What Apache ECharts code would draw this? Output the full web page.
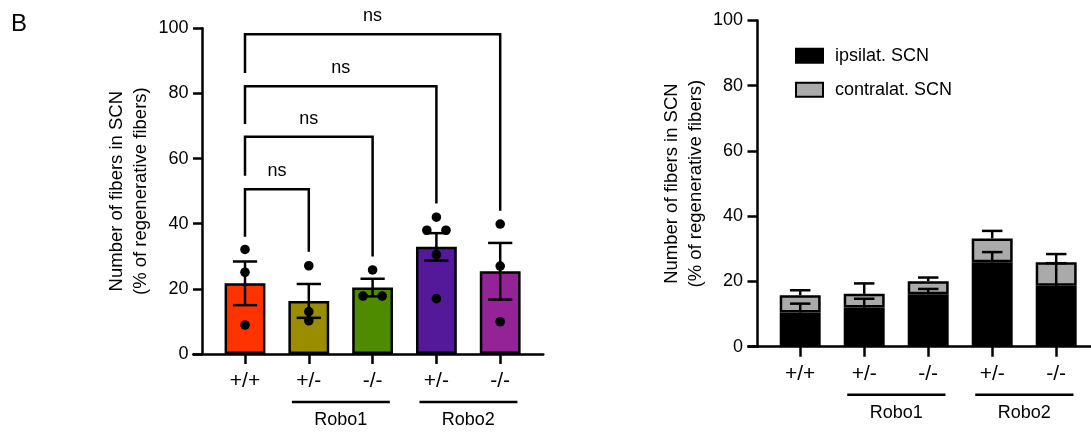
<!DOCTYPE html>
<html>
<head>
<meta charset="utf-8">
<script src="https://cdn.jsdelivr.net/npm/echarts@6/dist/echarts.min.js"></script>
<style>
  html, body { margin: 0; padding: 0; background: #fff; }
  #chart { width: 1091px; height: 432px; }
</style>
</head>
<body>
<div id="chart"></div>
<script>
// genotypes on both panels
const categories = ['+/+', '+/-', '-/-', '+/-', '-/-']
const yTicks = [0, 20, 40, 60, 80, 100]

// panel 1: means, SEM and single animals
const meanFibers = [21.7, 16.3, 20.4, 32.9, 25.4]
const semFibers = [6.7, 5.2, 2.7, 4.2, 8.7]
const ptsWT = [32.1, 25.1, 8.9]
const ptsRobo1Het = [27.1, 13.0, 10.2]
const ptsRobo1Ko = [25.8, 17.8, 17.8]
const ptsRobo2Het = [42.0, 38.0, 38.0, 30.5, 17.0]
const ptsRobo2Ko = [39.9, 27.0, 9.9]

// comparison brackets (all vs +/+)
const bracketFrom = [0, 0, 0, 0]
const bracketTo = [1, 2, 3, 4]
const bracketTop = [50.6, 66.7, 82.2, 98.2]
const bracketLeftEnd = [36.0, 54.7, 70.6, 86.3]
const bracketRightEnd = [31.4, 29.9, 46.2, 44.0]
const bracketLabels = ['ns', 'ns', 'ns', 'ns']

// gene groups under the axis
const groupNames = ['Robo1', 'Robo2']
const groupStart = [1, 3]
const groupEnd = [2, 4]

// panel 2: stacked ipsi / contra
const ipsiVals = [10.5, 12.0, 16.1, 25.9, 18.7]
const contraVals = [5.3, 4.2, 4.0, 7.3, 7.2]
const ipsiSem = [2.7, 2.7, 1.6, 3.1, 6.9]
const contraSem = [1.5, 3.2, 1.1, 2.3, 2.5]

const barColors = ['#ff3300', '#9a8e00', '#4e8b00', '#53199a', '#932397']
const FONT = '"Liberation Sans", Arial, Helvetica, sans-serif'
const LW = 2.5

const chart = echarts.init(document.getElementById('chart'))

// spread points with (almost) equal values side by side, like a dot plot
const jitter = (vals) => {
  const idx = vals.map((v, i) => i).sort((a, b) => vals[b] - vals[a])
  const out = new Array(vals.length).fill(0)
  let k = 0
  while (k < idx.length) {
    let j = k
    while (j + 1 < idx.length && Math.abs(vals[idx[j + 1]] - vals[idx[k]]) < 1.5) j++
    const n = j - k + 1
    for (let m = 0; m < n; m++) out[idx[k + m]] = (m - (n - 1) / 2) * 0.3
    k = j + 1
  }
  return out
}

const dotData = []
;[ptsWT, ptsRobo1Het, ptsRobo1Ko, ptsRobo2Het, ptsRobo2Ko].forEach((pts, i) => {
  const off = jitter(pts)
  pts.forEach((v, j) => dotData.push([i, v, off[j]]))
})

const lineStyle = { stroke: '#000', lineWidth: LW }

const groupSeries = (xi, yi) => ({
  type: 'custom',
  xAxisIndex: xi,
  yAxisIndex: yi,
  clip: false,
  silent: true,
  z: 10,
  data: groupNames.map((n, i) => [groupStart[i], groupEnd[i]]),
  renderItem: (params, api) => {
    const a = api.coord([api.value(0), 0])
    const b = api.coord([api.value(1), 0])
    const band = api.size([1, 0])[0]
    return {
      type: 'group',
      children: [
        { type: 'line', shape: { x1: a[0] - 0.265 * band, y1: a[1] + 48, x2: b[0] + 0.27 * band, y2: a[1] + 48 }, style: lineStyle },
        { type: 'text', style: { text: groupNames[params.dataIndex], x: (a[0] + b[0]) / 2, y: a[1] + 66, align: 'center', verticalAlign: 'middle', fontSize: 18, fontFamily: FONT, fill: '#000' } }
      ]
    }
  }
})

const baseAxis = (grid) => ({
  gridIndex: grid,
  type: 'value',
  min: 0,
  max: 1,
  axisLine: { show: true, lineStyle: { color: '#000', width: LW } },
  axisTick: { show: false },
  axisLabel: { show: false },
  splitLine: { show: false }
})

const catAxis = (grid) => ({
  gridIndex: grid,
  type: 'category',
  data: categories,
  axisLine: { show: false },
  axisTick: { show: true, alignWithLabel: true, length: 10, lineStyle: { color: '#000', width: LW } },
  axisLabel: { color: '#000', fontSize: 21, fontFamily: FONT, margin: 17, interval: 0 }
})

const valAxis = (grid, offset) => ({
  gridIndex: grid,
  type: 'value',
  min: yTicks[0],
  max: yTicks[yTicks.length - 1],
  interval: yTicks[1] - yTicks[0],
  offset: offset,
  axisLine: { show: true, lineStyle: { color: '#000', width: LW } },
  axisTick: { show: true, length: 9.5, lineStyle: { color: '#000', width: LW } },
  axisLabel: { color: '#000', fontSize: 18, fontFamily: FONT, margin: 14 },
  splitLine: { show: false },
  name: 'Number of fibers in SCN\n(% of regenerative fibers)',
  nameLocation: 'middle',
  nameGap: 49.5,
  nameTextStyle: { color: '#000', fontSize: 18.5, fontFamily: FONT, lineHeight: 24 }
})

const option = {
  animation: false,
  backgroundColor: '#fff',
  textStyle: { fontFamily: FONT },
  title: { text: 'B', left: 11, top: 12, padding: 0, textStyle: { fontSize: 24, fontWeight: 'normal', color: '#000', fontFamily: FONT } },
  legend: {
    orient: 'vertical',
    left: 795,
    top: 46.7,
    padding: 0,
    itemWidth: 27,
    itemHeight: 14,
    itemGap: 16,
    icon: 'rect',
    data: ['ipsilat. SCN', 'contralat. SCN'],
    textStyle: { color: '#000', fontSize: 18, fontFamily: FONT, padding: [0, 0, 0, 7] }
  },
  grid: [
    { left: 213.1, top: 28.3, width: 319, height: 325.7 },
    { left: 768.2, top: 20.5, width: 320, height: 326.2 },
    { left: 193.3, top: 353, width: 350, height: 1 },
    { left: 748.4, top: 345.7, width: 342.6, height: 1 }
  ],
  xAxis: [catAxis(0), catAxis(1), baseAxis(2), baseAxis(3)],
  yAxis: [
    valAxis(0, 10.6),
    valAxis(1, 11.2),
    { gridIndex: 2, type: 'value', show: false },
    { gridIndex: 3, type: 'value', show: false }
  ],
  series: [
    {
      type: 'bar',
      xAxisIndex: 0,
      yAxisIndex: 0,
      barWidth: '64%',
      z: 2,
      data: meanFibers.map((v, i) => ({ value: v, itemStyle: { color: barColors[i] } })),
      itemStyle: { borderColor: '#000', borderWidth: LW }
    },
    {
      type: 'custom',
      xAxisIndex: 0,
      yAxisIndex: 0,
      z: 10,
      data: dotData,
      renderItem: (params, api) => {
        const p = api.coord([api.value(0), api.value(1)])
        const band = api.size([1, 0])[0]
        return { type: 'circle', shape: { cx: p[0] + api.value(2) * band, cy: p[1], r: 4.8 }, style: { fill: '#000' } }
      }
    },
    {
      type: 'custom',
      xAxisIndex: 0,
      yAxisIndex: 0,
      z: 10,
      data: meanFibers.map((m, i) => [i, m, semFibers[i]]),
      renderItem: (params, api) => {
        const i = api.value(0), m = api.value(1), s = api.value(2)
        const hi = api.coord([i, m + s])
        const lo = api.coord([i, m - s])
        const h = api.size([1, 0])[0] * 0.19
        return {
          type: 'group',
          children: [
            { type: 'line', shape: { x1: hi[0], y1: hi[1], x2: lo[0], y2: lo[1] }, style: lineStyle },
            { type: 'line', shape: { x1: hi[0] - h, y1: hi[1], x2: hi[0] + h, y2: hi[1] }, style: lineStyle },
            { type: 'line', shape: { x1: lo[0] - h, y1: lo[1], x2: lo[0] + h, y2: lo[1] }, style: lineStyle }
          ]
        }
      }
    },
    {
      type: 'custom',
      xAxisIndex: 0,
      yAxisIndex: 0,
      clip: false,
      z: 10,
      data: bracketFrom.map((f, i) => [f, bracketTo[i], bracketTop[i], bracketLeftEnd[i], bracketRightEnd[i]]),
      renderItem: (params, api) => {
        const L = api.coord([api.value(0), api.value(2)])
        const R = api.coord([api.value(1), api.value(2)])
        const Lb = api.coord([api.value(0), api.value(3)])
        const Rb = api.coord([api.value(1), api.value(4)])
        return {
          type: 'group',
          children: [
            { type: 'polyline', shape: { points: [Lb, L, R, Rb] }, style: { stroke: '#000', lineWidth: LW, fill: null } },
            { type: 'text', style: { text: bracketLabels[params.dataIndex], x: (L[0] + R[0]) / 2, y: L[1] - 18, align: 'center', verticalAlign: 'middle', fontSize: 18, fontFamily: FONT, fill: '#000' } }
          ]
        }
      }
    },
    groupSeries(0, 0),
    {
      name: 'ipsilat. SCN',
      type: 'bar',
      xAxisIndex: 1,
      yAxisIndex: 1,
      stack: 'scn',
      barWidth: '64%',
      z: 2,
      data: ipsiVals,
      itemStyle: { color: '#000', borderColor: '#000', borderWidth: LW }
    },
    {
      name: 'contralat. SCN',
      type: 'bar',
      xAxisIndex: 1,
      yAxisIndex: 1,
      stack: 'scn',
      barWidth: '64%',
      z: 2,
      data: contraVals,
      itemStyle: { color: '#aaaaaa', borderColor: '#000', borderWidth: LW }
    },
    {
      type: 'custom',
      xAxisIndex: 1,
      yAxisIndex: 1,
      z: 10,
      data: ipsiVals.map((v, i) => [i, v, ipsiSem[i]])
        .concat(ipsiVals.map((v, i) => [i, v + contraVals[i], contraSem[i]])),
      renderItem: (params, api) => {
        const i = api.value(0), b = api.value(1), s = api.value(2)
        const lo = api.coord([i, b])
        const hi = api.coord([i, b + s])
        const h = api.size([1, 0])[0] * 0.16
        return {
          type: 'group',
          children: [
            { type: 'line', shape: { x1: lo[0], y1: lo[1], x2: hi[0], y2: hi[1] }, style: lineStyle },
            { type: 'line', shape: { x1: hi[0] - h, y1: hi[1], x2: hi[0] + h, y2: hi[1] }, style: lineStyle }
          ]
        }
      }
    },
    groupSeries(1, 1)
  ]
}

chart.setOption(option)
</script>
</body>
</html>
